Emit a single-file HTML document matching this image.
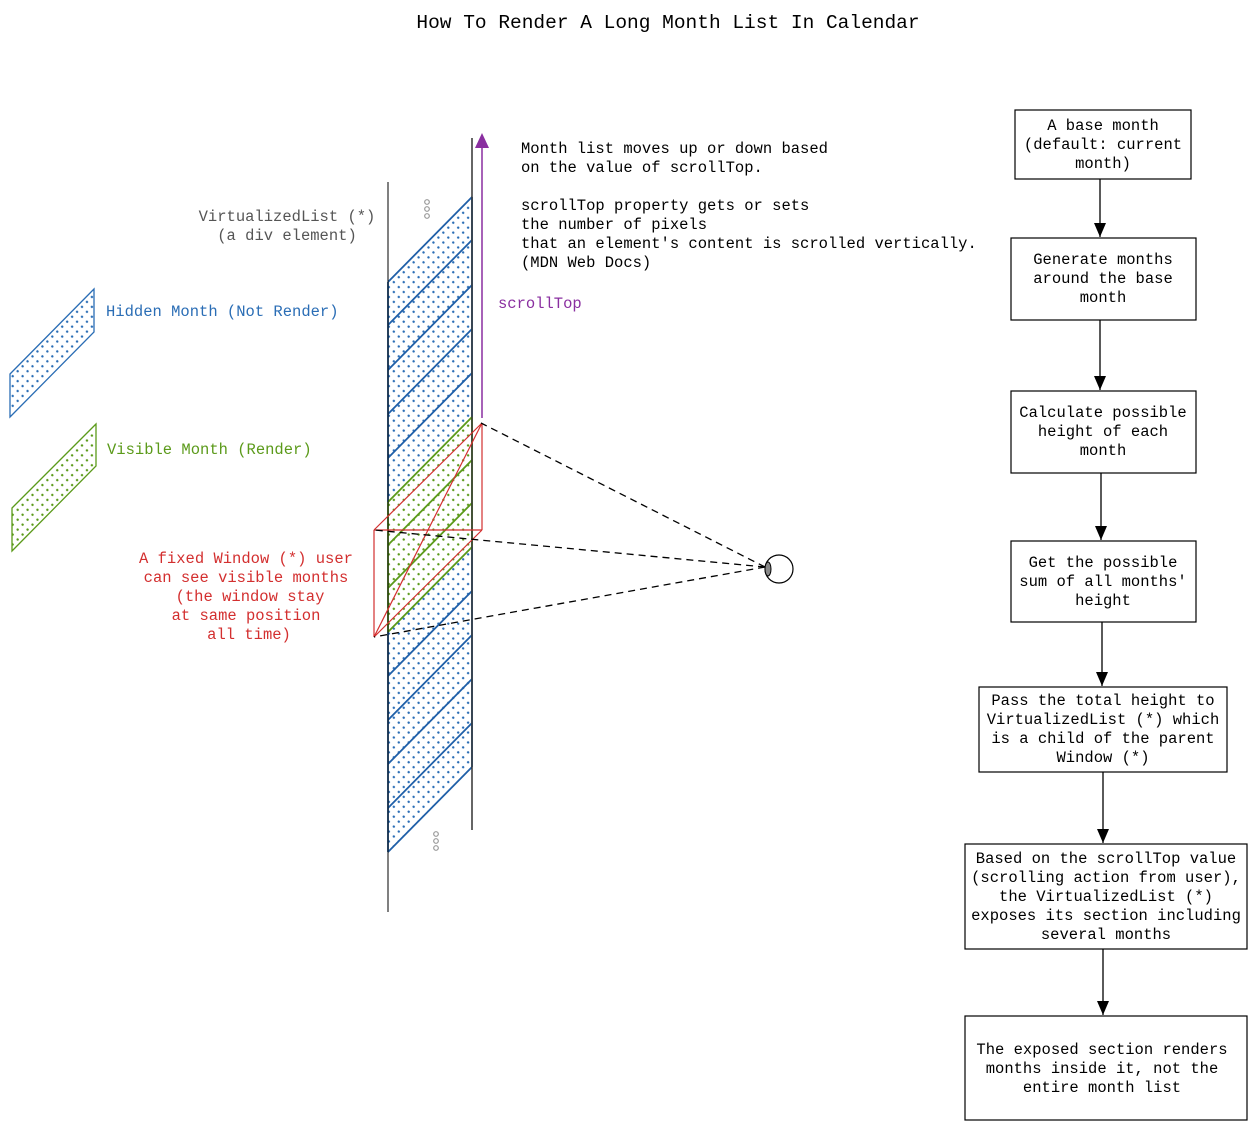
<!DOCTYPE html>
<html><head><meta charset="utf-8"><style>
body{margin:0;background:#fff}
svg text{font-family:"Liberation Mono",monospace;font-size:15.5px}
</style></head><body>
<svg width="1257" height="1130" viewBox="0 0 1257 1130" xmlns="http://www.w3.org/2000/svg">
<defs>
<pattern id="db" width="7" height="7" patternUnits="userSpaceOnUse" patternTransform="rotate(-45)"><circle cx="2" cy="2" r="1.2" fill="#2a6db5"/></pattern>
<pattern id="dg" width="7" height="7" patternUnits="userSpaceOnUse" patternTransform="rotate(-45)"><circle cx="2" cy="2" r="1.2" fill="#5b9a1a"/></pattern>
<marker id="ah" markerWidth="14" markerHeight="12" refX="14" refY="6" orient="auto" markerUnits="userSpaceOnUse"><path d="M0,0 L14,6 L0,12Z" fill="#000"/></marker>
</defs>
<text x="668" y="28" text-anchor="middle" style="font-size:19.5px">How To Render A Long Month List In Calendar</text>

<polygon points="388,282 472,197 472,417 388,502" fill="url(#db)"/>
<polygon points="388,502 472,417 472,547 388,632" fill="url(#dg)"/>
<polygon points="388,632 472,547 472,767 388,852" fill="url(#db)"/>
<g stroke="#1f5fa8" stroke-width="1.8" fill="none">
<line x1="388" y1="282" x2="472" y2="197"/><line x1="388" y1="325" x2="472" y2="240"/>
<line x1="388" y1="370" x2="472" y2="285"/><line x1="388" y1="414" x2="472" y2="329"/>
<line x1="388" y1="458" x2="472" y2="373"/>
<line x1="388" y1="676" x2="472" y2="591"/><line x1="388" y1="720" x2="472" y2="635"/>
<line x1="388" y1="764" x2="472" y2="679"/><line x1="388" y1="808" x2="472" y2="723"/>
<line x1="388" y1="852" x2="472" y2="767"/>
<line x1="388" y1="282" x2="388" y2="502"/><line x1="472" y1="197" x2="472" y2="417"/>
<line x1="388" y1="632" x2="388" y2="852"/><line x1="472" y1="547" x2="472" y2="767"/>
</g>
<g stroke="#5b9a1a" stroke-width="1.8" fill="none">
<line x1="388" y1="502" x2="472" y2="417"/><line x1="388" y1="545" x2="472" y2="460"/>
<line x1="388" y1="588" x2="472" y2="503"/><line x1="388" y1="632" x2="472" y2="547"/>
<line x1="388" y1="502" x2="388" y2="632"/><line x1="472" y1="417" x2="472" y2="547"/>
</g>
<line x1="388" y1="182" x2="388" y2="912" stroke="#000" stroke-width="1"/>
<line x1="472" y1="138" x2="472" y2="830" stroke="#333" stroke-width="1.5"/>
<line x1="482" y1="418" x2="482" y2="145" stroke="#8a2fa0" stroke-width="1.5"/>
<path d="M475,148 L482,133 L489,148Z" fill="#8a2fa0"/>
<g fill="none" stroke="#999" stroke-width="1.2"><circle cx="427" cy="202" r="2.3"/><circle cx="427" cy="209" r="2.3"/><circle cx="427" cy="216" r="2.3"/>
<circle cx="436" cy="834" r="2.3"/><circle cx="436" cy="841" r="2.3"/><circle cx="436" cy="848" r="2.3"/></g>
<g stroke="#d32f2f" stroke-width="1.2" fill="none">
<line x1="374" y1="530" x2="482" y2="530"/><line x1="374" y1="530" x2="374" y2="637"/>
<line x1="482" y1="423" x2="482" y2="530"/><line x1="482" y1="423" x2="374" y2="530"/>
<line x1="482" y1="530" x2="374" y2="637"/><line x1="482" y1="423" x2="374" y2="637"/>
</g>
<g stroke="#000" stroke-width="1.3" stroke-dasharray="7,5" fill="none">
<line x1="765" y1="567" x2="481" y2="423"/><line x1="765" y1="567" x2="374" y2="530"/><line x1="765" y1="567" x2="374" y2="637"/>
</g>
<circle cx="779" cy="569" r="14" fill="#fff" stroke="#000" stroke-width="1.2"/>
<ellipse cx="768" cy="569" rx="3" ry="7" fill="#888" stroke="#000"/>
<polygon points="10,374 94,289 94,332 10,417" fill="url(#db)" stroke="#2a6db5" stroke-width="1.3"/>
<polygon points="12,508 96,424 96,466 12,551" fill="url(#dg)" stroke="#5b9a1a" stroke-width="1.3"/>
<text x="106" y="316" fill="#2a6db5">Hidden Month (Not Render)</text>
<text x="107" y="454" fill="#5b9a1a">Visible Month (Render)</text>
<g fill="#d32f2f" text-anchor="middle">
<text x="246" y="563">A fixed Window (*) user</text><text x="246" y="582">can see visible months</text>
<text x="250" y="601">(the window stay</text><text x="246" y="620">at same position</text><text x="249" y="639">all time)</text>
</g>
<g fill="#555" text-anchor="middle"><text x="287" y="221">VirtualizedList (*)</text><text x="287" y="240">(a div element)</text></g>
<text x="498" y="308" fill="#8a2fa0">scrollTop</text>
<g><text x="521" y="153">Month list moves up or down based</text><text x="521" y="172">on the value of scrollTop.</text>
<text x="521" y="210">scrollTop property gets or sets</text><text x="521" y="229">the number of pixels</text>
<text x="521" y="248">that an element's content is scrolled vertically.</text><text x="521" y="267">(MDN Web Docs)</text></g>
<g fill="#fff" stroke="#000" stroke-width="1.2">
<rect x="1015" y="110" width="176" height="69"/><rect x="1011" y="238" width="185" height="82"/>
<rect x="1011" y="391" width="185" height="82"/><rect x="1011" y="541" width="185" height="81"/>
<rect x="979" y="687" width="248" height="85"/><rect x="965" y="844" width="282" height="105"/>
<rect x="965" y="1016" width="282" height="104"/>
</g>
<g stroke="#000" stroke-width="1.3" marker-end="url(#ah)">
<line x1="1100" y1="179" x2="1100" y2="237"/><line x1="1100" y1="320" x2="1100" y2="390"/>
<line x1="1101" y1="473" x2="1101" y2="540"/><line x1="1102" y1="622" x2="1102" y2="686"/>
<line x1="1103" y1="772" x2="1103" y2="843"/><line x1="1103" y1="949" x2="1103" y2="1015"/>
</g>
<g text-anchor="middle">
<text x="1103" y="130">A base month</text><text x="1103" y="149">(default: current</text><text x="1103" y="168">month)</text>
<text x="1103" y="264">Generate months</text><text x="1103" y="283">around the base</text><text x="1103" y="302">month</text>
<text x="1103" y="417">Calculate possible</text><text x="1103" y="436">height of each</text><text x="1103" y="455">month</text>
<text x="1103" y="567">Get the possible</text><text x="1103" y="586">sum of all months'</text><text x="1103" y="605">height</text>
<text x="1103" y="705">Pass the total height to</text><text x="1103" y="724">VirtualizedList (*) which</text><text x="1103" y="743">is a child of the parent</text><text x="1103" y="762">Window (*)</text>
<text x="1106" y="863">Based on the scrollTop value</text><text x="1106" y="882">(scrolling action from user),</text><text x="1106" y="901">the VirtualizedList (*)</text><text x="1106" y="920">exposes its section including</text><text x="1106" y="939">several months</text>
<text x="1102" y="1054">The exposed section renders</text><text x="1102" y="1073">months inside it, not the</text><text x="1102" y="1092">entire month list</text>
</g>
</svg>
</body></html>
